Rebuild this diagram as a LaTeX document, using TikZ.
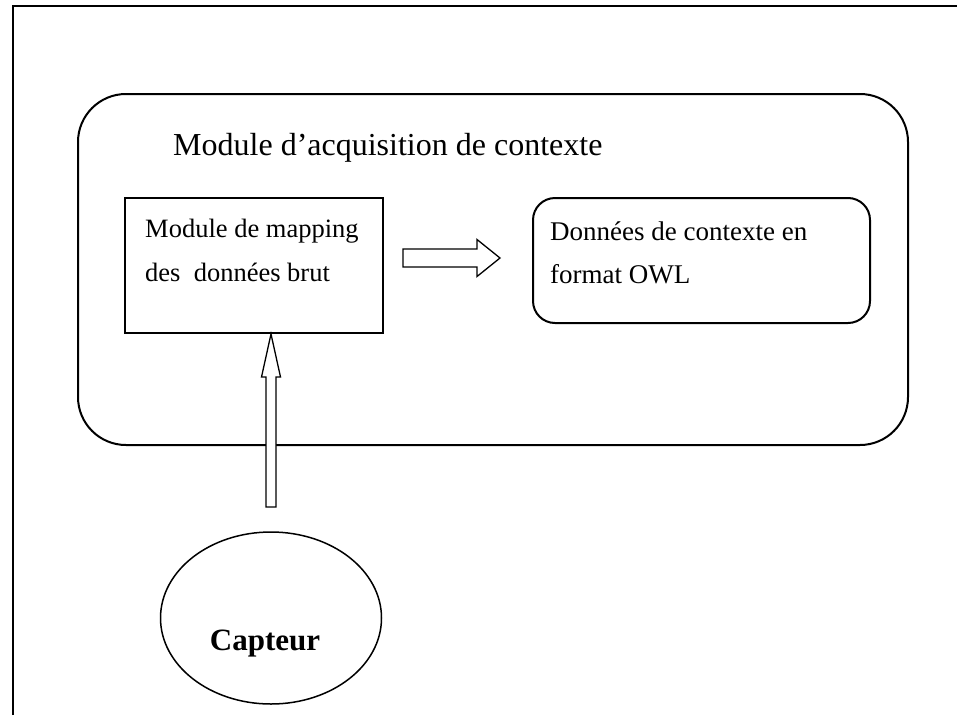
\documentclass[tikz,border=0pt]{standalone}
\usepackage{fontspec}
\setmainfont{Liberation Serif}
\usetikzlibrary{shapes.geometric}
\begin{document}
\begin{tikzpicture}[x=1pt,y=-1pt,
  frame/.style={line width=2pt},
  module/.style={draw,line width=2pt,rounded corners=48pt,inner sep=0pt},
  mapbox/.style={draw,line width=2pt,inner sep=0pt},
  owlbox/.style={draw,line width=2pt,rounded corners=22pt,inner sep=0pt},
  sensor/.style={draw,ellipse,line width=1.5pt,inner sep=0pt},
  blockarrow/.style={draw,line width=1.3pt,line join=miter,fill=white},
  label/.style={inner sep=0pt,align=left,anchor=base west}]

\useasboundingbox (0,0) rectangle (957,715);

% page frame: top and left edges only
\draw[frame] (13,715) -- (13,6) -- (957,6);

% boxes
\node[module,minimum width=830pt,minimum height=351pt] (acq) at (493,269.5) {};
\node[mapbox,minimum width=258pt,minimum height=135pt] (map) at (254,265.5) {};
\node[owlbox,minimum width=337pt,minimum height=125pt] (owl) at (701.5,260.5) {};
\node[sensor,minimum width=221pt,minimum height=172pt] (cap) at (271,618) {};

% texts (the base anchor of a two-line node is its last baseline)
\node[label,font=\fontsize{32}{38}\selectfont] (acqtitle) at (173,155) {Module d’acquisition de contexte};
\node[label,font=\fontsize{26.5}{44}\selectfont] (maptext) at (145,281) {Module de mapping\\des\ \ données brut};
\node[label,font=\fontsize{27}{43}\selectfont] (owltext) at (550,283) {Données de contexte en\\format OWL};
\node[inner sep=0pt,anchor=base,font=\fontsize{31}{36}\selectfont\bfseries] (captext) at (265,650) {Capteur};

% block arrow from the mapping module to the OWL data
\coordinate (rtail) at ([xshift=19pt]map.east |- 0,258);
\draw[blockarrow,shift={(rtail)}]
  (0,-9) -- (74,-9) -- (74,-18.5) -- (97,0) -- (74,18.5) -- (74,9) -- (0,9) -- cycle;

% block arrow from the sensor up to the mapping module
\coordinate (utip) at ([xshift=17pt]map.south);
\draw[blockarrow,shift={(utip)}]
  (0,0) -- (9.5,43) -- (5,43) -- (5,173) -- (-5,173) -- (-5,43) -- (-9.5,43) -- cycle;

\end{tikzpicture}
\end{document}
